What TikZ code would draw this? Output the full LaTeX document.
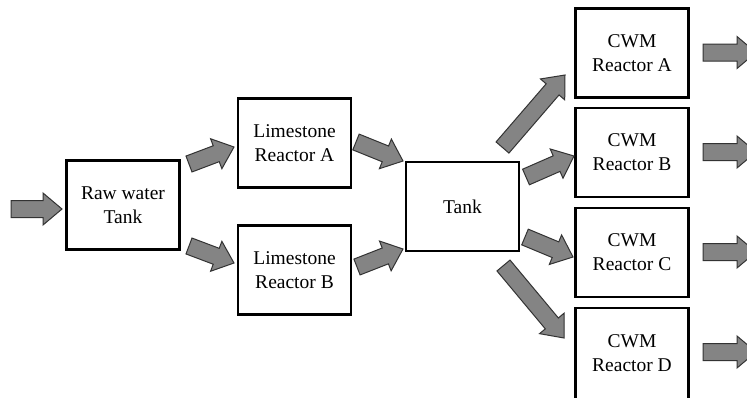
\documentclass[tikz,border=0pt]{standalone}
\usepackage{fontspec}
\setmainfont{Liberation Serif}
\usetikzlibrary{calc}

\definecolor{arrowfill}{HTML}{848484}
\definecolor{arrowline}{HTML}{333333}

% block arrow from tail #2 to tip #3 (shaft half width, head half width, head length)
\newcommand\blockarrow[3][]{%
  \coordinate (hb) at ($(#3)!19pt!(#2)$);
  \draw[arrowbody,#1]
    ($(#2)!8.5pt!-90:(#3)$) -- ($(hb)!8.5pt!-90:(#3)$) -- ($(hb)!16pt!-90:(#3)$)
    -- (#3) -- ($(hb)!16pt!90:(#3)$) -- ($(hb)!8.5pt!90:(#3)$)
    -- ($(#2)!8.5pt!90:(#3)$) -- cycle;
}

\begin{document}
\begin{tikzpicture}[x=1pt,y=-1pt,
  unit/.style={draw=black,line width=2.4pt,minimum width=113pt,minimum height=89pt,
    inner sep=0pt,align=center,font=\fontsize{19.5}{24}\selectfont},
  arrowbody/.style={fill=arrowfill,draw=arrowline,line width=1pt,line join=miter}]
\useasboundingbox[fill=white] (0,0) rectangle (747,397);

% process units
\node[unit] (raw)  at (123,205)   {Raw water\\Tank};
\node[unit] (limA) at (294.5,143) {Limestone\\Reactor A};
\node[unit] (limB) at (294.5,270) {Limestone\\Reactor B};
\node[unit] (tank) at (462.5,206.5) {Tank};
\node[unit] (cwmA) at (632,53)    {CWM\\Reactor A};
\node[unit] (cwmB) at (632,152.5) {CWM\\Reactor B};
\node[unit] (cwmC) at (632,252.5) {CWM\\Reactor C};
\node[unit,minimum height=91pt] (cwmD) at (632,353.5) {CWM\\Reactor D};

% arrow ends
\coordinate (in-s) at (11,209);     \coordinate (in-e) at (62,209);
\coordinate (ra-s) at (189,164);    \coordinate (ra-e) at (234,147);
\coordinate (rb-s) at (189,246);    \coordinate (rb-e) at (234,263);
\coordinate (at-s) at (356,142);    \coordinate (at-e) at (403,161);
\coordinate (bt-s) at (357,267);    \coordinate (bt-e) at (403,249);
\coordinate (ta-s) at (502.5,147.5);\coordinate (ta-e) at (565,75);
\coordinate (tb-s) at (526,177);    \coordinate (tb-e) at (574,156);
\coordinate (tc-s) at (525,237);    \coordinate (tc-e) at (573,257);
\coordinate (td-s) at (503.5,265.5);\coordinate (td-e) at (564,338);
\coordinate (oa-s) at (703,52.5);   \coordinate (oa-e) at (756,52.5);
\coordinate (ob-s) at (703,152);    \coordinate (ob-e) at (756,152);
\coordinate (oc-s) at (703,252);    \coordinate (oc-e) at (756,252);
\coordinate (od-s) at (703,352);    \coordinate (od-e) at (756,352);

% flows
\blockarrow{in-s}{in-e}
\blockarrow{ra-s}{ra-e}
\blockarrow{rb-s}{rb-e}
\blockarrow{at-s}{at-e}
\blockarrow{bt-s}{bt-e}
\blockarrow{ta-s}{ta-e}
\blockarrow{tb-s}{tb-e}
\blockarrow{tc-s}{tc-e}
\blockarrow{td-s}{td-e}
\blockarrow{oa-s}{oa-e}
\blockarrow{ob-s}{ob-e}
\blockarrow{oc-s}{oc-e}
\blockarrow{od-s}{od-e}
\end{tikzpicture}
\end{document}
